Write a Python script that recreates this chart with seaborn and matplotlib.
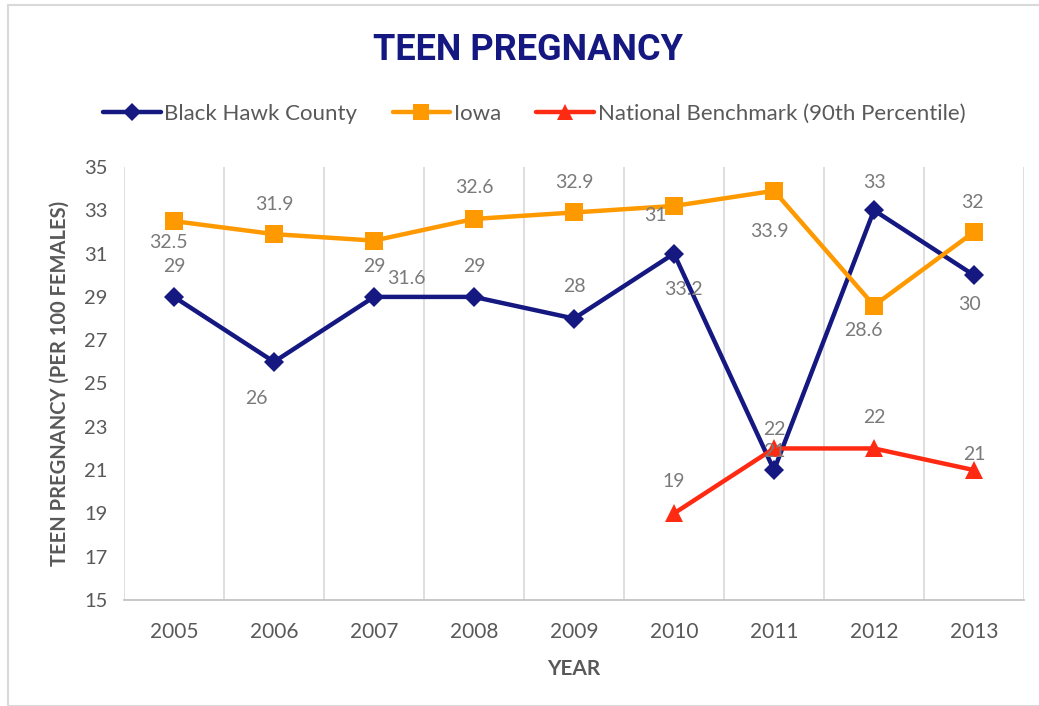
import matplotlib
matplotlib.use("Agg")
import matplotlib.pyplot as plt
import seaborn as sns
import pandas as pd
from matplotlib.lines import Line2D
from matplotlib.patches import Rectangle

# ---- data ----
years = [2005, 2006, 2007, 2008, 2009, 2010, 2011, 2012, 2013]
black_hawk = [29, 26, 29, 29, 28, 31, 21, 33, 30]
iowa = [32.5, 31.9, 31.6, 32.6, 32.9, 33.2, 33.9, 28.6, 32]
bench_years = [2010, 2011, 2012, 2013]
benchmark = [19, 22, 22, 21]
y_ticks = [15, 17, 19, 21, 23, 25, 27, 29, 31, 33, 35]

# label offsets (pixels) to mimic original data-label placement
bh_off = [(0, 30), (-18, -37), (0, 30), (0, 30), (0, 32), (-19, 38), (0, 19), (0, 28), (-5, -29)]
ia_off = [(-6, -21), (0, 30), (32, -38), (0, 31), (0, 30), (9, -84), (-5, -41), (-11, -25), (-2, 29)]
nb_off = [(0, 32), (0, 19), (0, 31), (0, 16)]

C_BH = "#141880"
C_IA = "#FF9900"
C_NB = "#FF2A12"
GRAY = "#595959"
LBL = "#7a7a7a"

sns.set_theme(style="white")
FONT = ["Lato", "DejaVu Sans"]
plt.rcParams["font.family"] = FONT

fig = plt.figure(figsize=(10.39, 7.06), dpi=100)
ax = fig.add_axes([124 / 1039, 1 - 600 / 706, 900 / 1039, (600 - 167) / 706])

df_bh = pd.DataFrame({"year": years, "v": black_hawk})
df_ia = pd.DataFrame({"year": years, "v": iowa})
df_nb = pd.DataFrame({"year": bench_years, "v": benchmark})

sns.lineplot(data=df_bh, x="year", y="v", ax=ax, color=C_BH, lw=3.2,
             marker="D", markersize=10.5, markeredgewidth=0, zorder=3)
sns.lineplot(data=df_ia, x="year", y="v", ax=ax, color=C_IA, lw=3.2,
             marker="s", markersize=12.5, markeredgewidth=0, zorder=3)
sns.lineplot(data=df_nb, x="year", y="v", ax=ax, color=C_NB, lw=3.2,
             marker="^", markersize=12.5, markeredgewidth=0, zorder=3)

def labels(xs, vs, offs):
    for x, v, (dx, dy) in zip(xs, vs, offs):
        ax.annotate(f"{v:g}", (x, v), xytext=(dx, dy), textcoords="offset pixels",
                    ha="center", va="center", fontsize=14, color=LBL, zorder=4)

labels(years, black_hawk, bh_off)
labels(years, iowa, ia_off)
labels(bench_years, benchmark, nb_off)

ax.set_xlim(years[0] - 0.5, years[-1] + 0.5)
ax.set_ylim(15, 35)
ax.set_yticks(y_ticks)
ax.set_xticks(years)
ax.set_xticklabels([str(y) for y in years])
ax.set_xticks([y - 0.5 for y in years] + [years[-1] + 0.5], minor=True)
ax.grid(False)
ax.grid(True, which="minor", axis="x", color="#d9d9d9", lw=1.2)
ax.tick_params(axis="both", which="both", length=0)
ax.tick_params(axis="y", labelsize=14.5, labelcolor=GRAY, pad=12)
ax.tick_params(axis="x", labelsize=15, labelcolor=GRAY, pad=16)
for s in ["top", "right", "left"]:
    ax.spines[s].set_visible(False)
ax.spines["bottom"].set_color("#bfbfbf")
ax.spines["bottom"].set_linewidth(1.2)

ax.set_xlabel("YEAR", fontsize=15, fontweight="bold", color=GRAY, labelpad=12)
ax.set_ylabel("TEEN PREGNANCY (PER 100 FEMALES)", fontsize=14.5, fontweight="bold",
              color=GRAY, labelpad=10)

fig.text(0.508, 1 - 50 / 706, "TEEN PREGNANCY", ha="center", va="center",
         fontsize=26, fontweight="bold", color="#141880",
         family=["Roboto", "DejaVu Sans"])

handles = [
    Line2D([], [], color=C_BH, lw=3.2, marker="D", markersize=9, markeredgewidth=0),
    Line2D([], [], color=C_IA, lw=3.2, marker="s", markersize=11, markeredgewidth=0),
    Line2D([], [], color=C_NB, lw=3.2, marker="^", markersize=11, markeredgewidth=0),
]
fig.legend(handles, ["Black Hawk County", "Iowa", "National Benchmark (90th Percentile)"],
           loc="center", bbox_to_anchor=(0.514, 1 - 114 / 706), ncol=3, frameon=False,
           fontsize=16, handlelength=2.6, handletextpad=0.15, columnspacing=1.6,
           labelcolor=GRAY)

fig.patches.append(Rectangle((8 / 1039, 0.0), 1.2, 1 - 5 / 706, transform=fig.transFigure,
                             fill=False, edgecolor="#d9d9d9", lw=1.5))

fig.savefig("out.png", dpi=100)
